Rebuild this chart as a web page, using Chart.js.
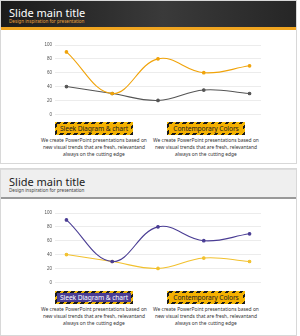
<!DOCTYPE html>
<html>
<head>
<meta charset="utf-8">
<script src="https://cdn.jsdelivr.net/npm/chart.js@4/dist/chart.umd.min.js"></script>
<style>
  body { margin:0; width:300px; height:336px; background:#fff; font-family:"Noto Sans", sans-serif; position:relative; overflow:hidden; }
  .slide { position:absolute; left:0; width:297px; border:1px solid #d8d8d8; background:#fff; box-sizing:border-box; }
  .head { position:absolute; left:0; top:0; right:0; }
  .title { position:absolute; left:8px; top:4px; font-size:11px; white-space:nowrap; }
  .sub { position:absolute; left:8px; top:17px; font-size:4.6px; white-space:nowrap; }
  .tag { position:absolute; width:78px; height:13px; box-sizing:border-box; padding:2px;
         background:repeating-linear-gradient(-45deg, #1a1a1a 0 2.5px, #f2b705 2.5px 5px); }
  .tag div { width:100%; height:100%; font-size:6.7px; line-height:9px; text-align:center; white-space:nowrap; letter-spacing:-0.1px; }
  .txt { position:absolute; width:120px; font-size:4.9px; line-height:7px; text-align:center; color:#333; }
  canvas { position:absolute; left:0; }
</style>
</head>
<body>
<div class="slide" style="top:0;height:164px">
  <div class="head" style="height:26px;background:linear-gradient(90deg,#1b1b1b,#3a3a3a 55%,#262626);border-bottom:3px solid #f0a520">
    <div class="title" style="color:#fff">Slide main title</div>
    <div class="sub" style="color:#e9a23b">Design inspiration for presentation</div>
  </div>
</div>
<div class="slide" style="top:168px;height:168px">
  <div class="head" style="height:27px;background:#efefef;border-top:1px solid #ddd;border-bottom:2px solid #999">
    <div class="title" style="color:#222">Slide main title</div>
    <div class="sub" style="color:#444">Design inspiration for presentation</div>
  </div>
</div>

<canvas id="c1" width="300" height="82" style="top:38px"></canvas>
<canvas id="c2" width="300" height="82" style="top:206px"></canvas>

<div class="tag" style="left:55px;top:122px"><div style="background:#f5b000;color:#222">Sleek Diagram &amp; chart</div></div>
<div class="tag" style="left:167px;top:122px"><div style="background:#f5b000;color:#222">Contemporary Colors</div></div>
<div class="txt" style="left:34px;top:137px">We create PowerPoint presentations based on<br>new visual trends that are fresh, relevantand<br>always on the cutting edge</div>
<div class="txt" style="left:146px;top:137px">We create PowerPoint presentations based on<br>new visual trends that are fresh, relevantand<br>always on the cutting edge</div>

<div class="tag" style="left:55px;top:291px"><div style="background:#4a3d94;color:#fff">Sleek Diagram &amp; chart</div></div>
<div class="tag" style="left:167px;top:291px"><div style="background:#f5b000;color:#222">Contemporary Colors</div></div>
<div class="txt" style="left:34px;top:306px">We create PowerPoint presentations based on<br>new visual trends that are fresh, relevantand<br>always on the cutting edge</div>
<div class="txt" style="left:146px;top:306px">We create PowerPoint presentations based on<br>new visual trends that are fresh, relevantand<br>always on the cutting edge</div>

<script>
const categories = [0, 1, 2, 3, 4]
const seriesA = [90, 30, 80, 60, 70]
const seriesB = [40, 30, 20, 35, 30]
const yTicks = [0, 20, 40, 60, 80, 100]

function makeChart(id, colorA, colorB, top) {
  return new Chart(document.getElementById(id), {
    type: 'line',
    data: {
      datasets: [
        { data: categories.map((c, i) => ({ x: c, y: seriesA[i] })), borderColor: colorA, backgroundColor: colorA,
          borderWidth: 1.1, pointRadius: 1.3, tension: 0.4 },
        { data: categories.map((c, i) => ({ x: c, y: seriesB[i] })), borderColor: colorB, backgroundColor: colorB,
          borderWidth: 1.1, pointRadius: 1.3, tension: 0.4 }
      ]
    },
    options: {
      responsive: false,
      animation: false,
      layout: { padding: { left: 30, right: 39, top: top, bottom: 82 - top - 70 } },
      plugins: { legend: { display: false }, tooltip: { enabled: false } },
      scales: {
        x: { type: 'linear', min: -0.25, max: 4.25, display: false },
        y: {
          min: 0, max: 100,
          afterBuildTicks: s => { s.ticks = yTicks.map(v => ({ value: v })) },
          afterFit: s => { s.width = 25 },
          border: { display: false },
          grid: { color: '#ececec', lineWidth: 1, drawTicks: false },
          ticks: { color: '#555', font: { size: 4.5 }, padding: 3 }
        }
      }
    }
  })
}

makeChart('c1', '#f0a30a', '#555555', 7)
makeChart('c2', '#4a3d94', '#f2c12e', 7)
</script>
</body>
</html>
